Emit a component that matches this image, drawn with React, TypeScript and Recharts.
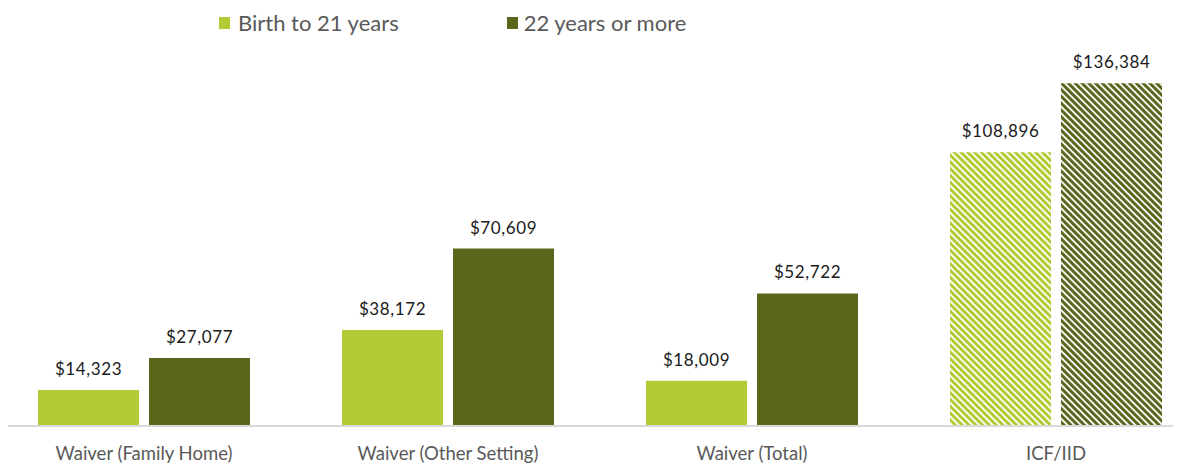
import React from "react";
import { BarChart, Bar, XAxis, YAxis, Legend, LabelList, Cell } from "recharts";

const categories = ["Waiver (Family Home)", "Waiver (Other Setting)", "Waiver (Total)", "ICF/IID"];
const youngValues = [14323, 38172, 18009, 108896];
const adultValues = [27077, 70609, 52722, 136384];
const seriesNames = ["Birth to 21 years", "22 years or more"];

const LIGHT = "#b2ca33";
const DARK = "#5a661b";
const FONT = "Lato, 'DejaVu Sans', sans-serif";

const data = categories.map((c, i) => ({ name: c, young: youngValues[i], adult: adultValues[i] }));

const fmt = (v: number) => "$" + v.toLocaleString("en-US");

const LegendContent = () => (
  <div style={{ display: "flex", alignItems: "center", fontFamily: FONT, fontSize: 22, color: "#595959", whiteSpace: "nowrap" }}>
    <span style={{ display: "inline-block", width: 11, height: 12, background: LIGHT, marginRight: 8 }} />
    <span style={{ marginRight: 108 }}>{seriesNames[0]}</span>
    <span style={{ display: "inline-block", width: 11, height: 12, background: DARK, marginRight: 6 }} />
    <span>{seriesNames[1]}</span>
  </div>
);

export default function App() {
  return (
    <div style={{ marginTop: -8, width: 1173, height: 466, overflow: "hidden" }}>
      <svg width={0} height={0} style={{ position: "absolute" }}>
        <defs>
          <pattern id="hatchLight" patternUnits="userSpaceOnUse" width={4.8} height={4.8} patternTransform="rotate(-45)">
            <rect width={4.8} height={4.8} fill="#ffffff" />
            <rect width={3} height={4.8} fill={LIGHT} />
          </pattern>
          <pattern id="hatchDark" patternUnits="userSpaceOnUse" width={4.8} height={4.8} patternTransform="rotate(-45)">
            <rect width={4.8} height={4.8} fill="#ffffff" />
            <rect width={3} height={4.8} fill={DARK} />
          </pattern>
        </defs>
      </svg>
      <div style={{ marginLeft: -16, width: 1216, height: 466 }}>
        <BarChart width={1216} height={466} data={data} margin={{ top: 24, right: 0, bottom: 0, left: 0 }} barSize={101} barGap={10}>
          <XAxis
            dataKey="name"
            height={40}
            axisLine={{ stroke: "#d9d9d9", strokeWidth: 2 }}
            tickLine={false}
            tick={{ fill: "#595959", fontSize: 18.5, fontFamily: FONT }}
            tickMargin={15}
            interval={0}
          />
          <YAxis hide domain={[0, 150000]} />
          <Legend
            verticalAlign="top"
            content={<LegendContent />}
            wrapperStyle={{ position: "absolute", top: 9, left: 227, width: "auto", height: 25 }}
          />
          <Bar dataKey="young" name={seriesNames[0]} fill={LIGHT} isAnimationActive={false}>
            {data.map((d, i) => (
              <Cell key={i} fill={i === 3 ? "url(#hatchLight)" : LIGHT} />
            ))}
            <LabelList dataKey="young" position="top" offset={15} formatter={(v: number) => fmt(v)} style={{ fill: "#1a1a1a", fontSize: 17, fontFamily: FONT, letterSpacing: 0.6 }} />
          </Bar>
          <Bar dataKey="adult" name={seriesNames[1]} fill={DARK} isAnimationActive={false}>
            {data.map((d, i) => (
              <Cell key={i} fill={i === 3 ? "url(#hatchDark)" : DARK} />
            ))}
            <LabelList dataKey="adult" position="top" offset={15} formatter={(v: number) => fmt(v)} style={{ fill: "#1a1a1a", fontSize: 17, fontFamily: FONT, letterSpacing: 0.6 }} />
          </Bar>
        </BarChart>
      </div>
    </div>
  );
}
